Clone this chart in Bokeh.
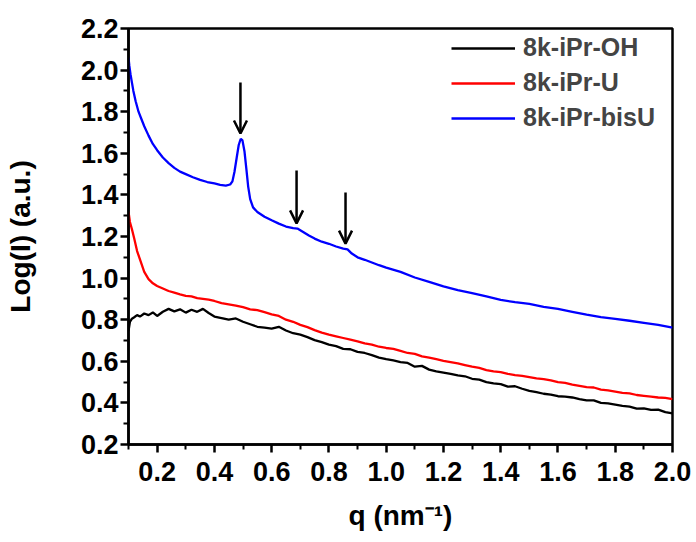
from bokeh.plotting import figure
from bokeh.models import (Range1d, FixedTicker, PrintfTickFormatter, Arrow, OpenHead,
                          Legend, LegendItem)
from bokeh.embed import file_html
from bokeh.resources import INLINE

# ---------------- data ----------------
q_grid = [0.100, 0.105, 0.112, 0.120, 0.130, 0.140, 0.155, 0.170, 0.185, 0.200,
          0.220, 0.240, 0.260, 0.280, 0.300, 0.320, 0.340, 0.360, 0.380, 0.400,
          0.425, 0.450, 0.475, 0.500, 0.525, 0.550, 0.575, 0.600, 0.625, 0.650,
          0.675, 0.700, 0.725, 0.750, 0.775, 0.800, 0.825, 0.850, 0.875, 0.900,
          0.925, 0.950, 0.975, 1.000, 1.025, 1.050, 1.075, 1.100, 1.125, 1.150,
          1.175, 1.200, 1.225, 1.250, 1.275, 1.300, 1.325, 1.350, 1.375, 1.400,
          1.425, 1.450, 1.475, 1.500, 1.525, 1.550, 1.575, 1.600, 1.625, 1.650,
          1.675, 1.700, 1.725, 1.750, 1.775, 1.800, 1.825, 1.850, 1.875, 1.900,
          1.925, 1.950, 1.975, 2.000]

log_oh = [0.745, 0.790, 0.805, 0.812, 0.822, 0.815, 0.830, 0.822, 0.835, 0.818,
          0.838, 0.852, 0.840, 0.850, 0.834, 0.848, 0.838, 0.852, 0.832, 0.815,
          0.808, 0.800, 0.806, 0.790, 0.778, 0.766, 0.762, 0.757, 0.766, 0.748,
          0.735, 0.728, 0.716, 0.702, 0.692, 0.680, 0.673, 0.660, 0.658, 0.645,
          0.640, 0.630, 0.618, 0.610, 0.604, 0.596, 0.592, 0.574, 0.578, 0.560,
          0.552, 0.546, 0.540, 0.532, 0.528, 0.516, 0.512, 0.500, 0.494, 0.490,
          0.478, 0.480, 0.468, 0.458, 0.452, 0.444, 0.440, 0.432, 0.430, 0.426,
          0.418, 0.412, 0.412, 0.400, 0.398, 0.392, 0.386, 0.382, 0.372, 0.374,
          0.366, 0.368, 0.356, 0.350]

log_u = [1.320, 1.270, 1.235, 1.190, 1.130, 1.090, 1.030, 0.995, 0.975, 0.962,
         0.950, 0.938, 0.930, 0.922, 0.915, 0.912, 0.904, 0.900, 0.896, 0.890,
         0.880, 0.874, 0.868, 0.860, 0.850, 0.846, 0.836, 0.826, 0.818, 0.800,
         0.790, 0.775, 0.764, 0.750, 0.738, 0.728, 0.720, 0.712, 0.704, 0.696,
         0.686, 0.680, 0.670, 0.664, 0.660, 0.650, 0.640, 0.636, 0.624, 0.618,
         0.610, 0.602, 0.596, 0.590, 0.582, 0.574, 0.568, 0.558, 0.552, 0.548,
         0.540, 0.534, 0.530, 0.524, 0.518, 0.514, 0.508, 0.500, 0.496, 0.488,
         0.482, 0.476, 0.474, 0.464, 0.460, 0.454, 0.448, 0.446, 0.438, 0.434,
         0.430, 0.426, 0.424, 0.418]

q_bis = [0.100, 0.103, 0.107, 0.112, 0.117, 0.125, 0.135, 0.145, 0.155, 0.170,
         0.185, 0.200, 0.220, 0.240, 0.260, 0.280, 0.300, 0.325, 0.350, 0.375,
         0.400, 0.420, 0.440, 0.455, 0.463, 0.470, 0.478, 0.485, 0.492, 0.498,
         0.505, 0.512, 0.518, 0.525, 0.535, 0.550, 0.575, 0.600, 0.625, 0.650,
         0.675, 0.690, 0.710, 0.730, 0.750, 0.775, 0.800, 0.825, 0.850, 0.865,
         0.880, 0.900, 0.925, 0.950, 0.975, 1.000, 1.050, 1.100, 1.150, 1.200,
         1.250, 1.300, 1.350, 1.400, 1.450, 1.500, 1.550, 1.600, 1.650, 1.700,
         1.750, 1.800, 1.850, 1.900, 1.950, 2.000]

log_bis = [2.060, 2.020, 1.980, 1.940, 1.900, 1.850, 1.800, 1.765, 1.730, 1.685,
           1.645, 1.615, 1.580, 1.553, 1.530, 1.512, 1.500, 1.485, 1.472, 1.462,
           1.455, 1.448, 1.445, 1.450, 1.465, 1.510, 1.580, 1.640, 1.670, 1.662,
           1.610, 1.520, 1.440, 1.380, 1.340, 1.318, 1.295, 1.278, 1.262, 1.248,
           1.240, 1.238, 1.222, 1.205, 1.190, 1.175, 1.165, 1.152, 1.142, 1.138,
           1.118, 1.100, 1.088, 1.075, 1.062, 1.050, 1.030, 1.003, 0.982, 0.960,
           0.942, 0.928, 0.912, 0.895, 0.884, 0.876, 0.862, 0.852, 0.838, 0.824,
           0.812, 0.804, 0.795, 0.785, 0.775, 0.762]

series_names = ["8k-iPr-OH", "8k-iPr-U", "8k-iPr-bisU"]
series_colors = ["#000000", "#ff0000", "#0000ff"]

x_ticks = [0.2, 0.4, 0.6, 0.8, 1.0, 1.2, 1.4, 1.6, 1.8, 2.0]
x_minor = [0.1, 0.3, 0.5, 0.7, 0.9, 1.1, 1.3, 1.5, 1.7, 1.9]
y_ticks = [0.2, 0.4, 0.6, 0.8, 1.0, 1.2, 1.4, 1.6, 1.8, 2.0, 2.2]
y_minor = [0.3, 0.5, 0.7, 0.9, 1.1, 1.3, 1.5, 1.7, 1.9, 2.1]

x_title = "q (nm\u207b\u00b9)"
y_title = "Log(I) (a.u.)"

# arrows marking the peaks of 8k-iPr-bisU
arrow_q = [0.491, 0.687, 0.858]
arrow_top = [1.94, 1.517, 1.412]
arrow_tip = [1.695, 1.263, 1.166]

# ---------------- figure ----------------
FONT = "Liberation Sans"
p = figure(width=696, height=542, x_range=Range1d(0.1, 2.0), y_range=Range1d(0.2, 2.2),
           output_backend="svg", toolbar_location=None,
           min_border_left=128, min_border_right=24, min_border_top=28, min_border_bottom=98)
p.background_fill_color = "white"
p.border_fill_color = "white"
p.xgrid.visible = False
p.ygrid.visible = False
p.outline_line_color = "black"
p.outline_line_width = 2.5

for ax, ticks, minor in ((p.xaxis[0], x_ticks, x_minor), (p.yaxis[0], y_ticks, y_minor)):
    ax.ticker = FixedTicker(ticks=ticks, minor_ticks=minor)
    ax.formatter = PrintfTickFormatter(format="%.1f")
    ax.axis_line_width = 2.5
    ax.major_tick_out = 8
    ax.major_tick_in = 0
    ax.minor_tick_out = 5
    ax.minor_tick_in = 0
    ax.major_tick_line_width = 2.5
    ax.minor_tick_line_width = 2
    ax.major_label_text_font = FONT
    ax.major_label_text_font_style = "bold"
    ax.major_label_text_font_size = "27px"
    ax.major_label_text_color = "black"
    ax.axis_label_text_font = FONT
    ax.axis_label_text_font_style = "bold"
    ax.axis_label_text_font_size = "28px"
    ax.axis_label_text_color = "black"
p.xaxis.major_label_standoff = 9
p.yaxis.major_label_standoff = 2
p.xaxis.axis_label = x_title
p.yaxis.axis_label = y_title
p.xaxis.axis_label_standoff = 16
p.yaxis.axis_label_standoff = 42

renderers = []
for qs, ys, c in ((q_grid, log_oh, series_colors[0]),
                  (q_grid, log_u, series_colors[1]),
                  (q_bis, log_bis, series_colors[2])):
    renderers.append(p.line(qs, ys, line_color=c, line_width=2.3))

legend = Legend(items=[LegendItem(label=n, renderers=[r]) for n, r in zip(series_names, renderers)],
                location=(323, 312))
legend.label_text_font = FONT
legend.label_text_font_style = "bold"
legend.label_text_font_size = "25px"
legend.glyph_width = 64
legend.glyph_height = 20
legend.label_standoff = 8
legend.spacing = 6
legend.padding = 8
legend.margin = 0
legend.border_line_color = None
legend.background_fill_alpha = 0
p.add_layout(legend)

for xq, y0, y1 in zip(arrow_q, arrow_top, arrow_tip):
    p.add_layout(Arrow(end=OpenHead(size=13, line_width=2.5, line_color="black"),
                       x_start=xq, y_start=y0, x_end=xq, y_end=y1,
                       line_width=2.5, line_color="black"))

open("out.html", "w").write(file_html(p, INLINE))
